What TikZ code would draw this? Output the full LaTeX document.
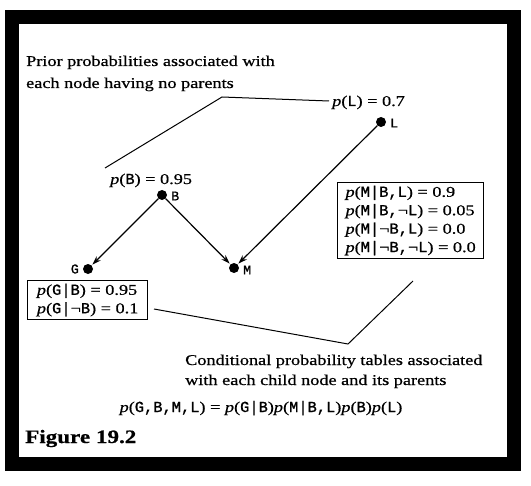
\documentclass[tikz,border=0pt]{standalone}
\usepackage{fontspec}
\setmainfont{Liberation Serif}[FakeStretch=1.22, FakeBold=0.6]
\newfontfamily\vfont{Liberation Mono}[Scale=1.03, FakeBold=1]
\usetikzlibrary{arrows.meta}
\newcommand\V[1]{{\vfont #1}}
\newcommand\pp{\textit{p}}
\tikzset{
  txt/.style={inner sep=0pt, font=\fontsize{15}{18}\selectfont},
  dot/.style={circle, fill=black, inner sep=0pt, minimum size=10bp},
  lbl/.style={inner sep=0pt, font=\vfont\fontsize{13}{15}\selectfont},
  arr/.style={line width=1.2bp, -{Stealth[length=9bp,width=6bp]}, shorten >=1bp},
  leader/.style={line width=1bp},
  tbl/.style={draw, line width=1.3bp, inner sep=3bp, align=left, font=\fontsize{15}{18.5}\selectfont},
}
\begin{document}
\begin{tikzpicture}[x=1bp,y=-1bp]
\useasboundingbox (0,0) rectangle (531,486);
\fill[white] (0,0) rectangle (531,486);
\draw[line width=14bp] (12,17) rectangle (514,464);

\node[txt, anchor=base west] (prior1) at (26,66) {Prior probabilities associated with};
\node[txt, anchor=base west] (prior2) at (26,88) {each node having no parents};

\node[txt, anchor=base west] (pL) at (332,106) {\pp(\V{L}) = 0.7};
\node[txt, anchor=base west] (pB) at (110,184) {\pp(\V{B}) = 0.95};

\node[dot] (L) at (381,122) {};
\node[dot] (B) at (162,195) {};
\node[dot] (G) at (88,269) {};
\node[dot] (M) at (234,268) {};
\node[lbl, anchor=west] (Llab) at (390,123) {L};
\node[lbl, anchor=west] (Blab) at (171,196) {B};
\node[lbl, anchor=east] (Glab) at (79,269) {G};
\node[lbl, anchor=west] (Mlab) at (243,270) {M};

\draw[arr] (B) -- (G);
\draw[arr] (B) -- (M);
\draw[arr] (L) -- (M);

\node[tbl, anchor=north west, minimum width=146bp] (Mtab) at (337,182)
  {\pp(\V{M|B,L}) = 0.9\\
   \pp(\V{M|B,}¬\V{L}) = 0.05\\
   \pp(\V{M|}¬\V{B,L}) = 0.0\\
   \pp(\V{M|}¬\V{B,}¬\V{L}) = 0.0};
\node[tbl, anchor=north west, minimum width=120bp] (Gtab) at (27,280)
  {\pp(\V{G|B}) = 0.95\\
   \pp(\V{G|}¬\V{B}) = 0.1};

\coordinate (lp1) at (105,168);
\coordinate (lp2) at (222,97);
\coordinate (lp3) at (329,101);
\draw[leader] (lp1) -- (lp2) -- (lp3);

\coordinate (lc1) at (154,309);
\coordinate (lc2) at (348,344);
\coordinate (lc3) at (413,281);
\draw[leader] (lc1) -- (lc2) -- (lc3);

\node[txt, anchor=base west] (cond1) at (185,365) {Conditional probability tables associated};
\node[txt, anchor=base west] (cond2) at (185,385) {with each child node and its parents};

\node[txt, anchor=base] (eq) at (261,412)
  {\pp(\V{G,B,M,L}) = \pp(\V{G|B})\pp(\V{M|B,L})\pp(\V{B})\pp(\V{L})};

\node[txt, anchor=base west, font=\bfseries\fontsize{19}{21}\selectfont] (fig) at (25,443) {Figure 19.2};
\end{tikzpicture}
\end{document}
